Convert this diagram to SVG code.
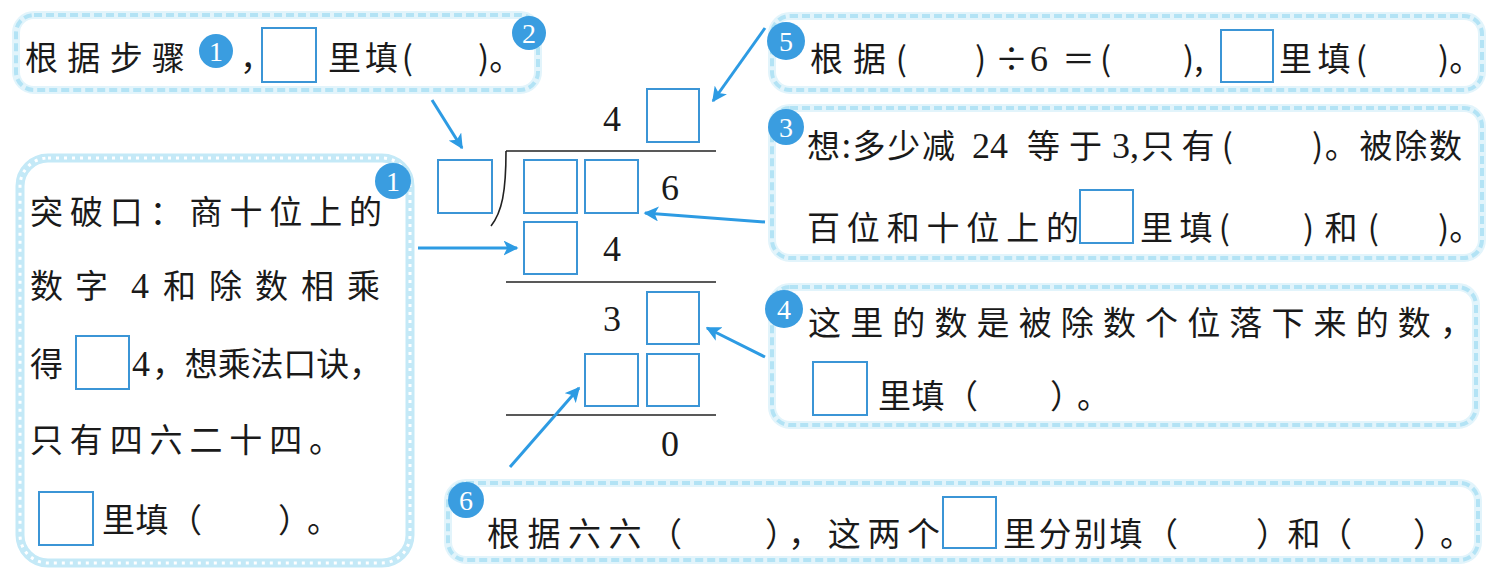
<svg xmlns="http://www.w3.org/2000/svg" width="1499" height="580" viewBox="0 0 1499 580">
<style>
.t{font-family:"Noto Sans CJK SC","Noto Sans",sans-serif;font-size:33px;fill:#1a1a1a}
.n{font-family:"Liberation Serif",serif;font-size:36px;fill:#1a1a1a}
.sq{fill:#fff;stroke:#3b95d6;stroke-width:2}
.band{fill:#fff;stroke:#e2f4fb;stroke-width:8}
.dash{fill:none;stroke:#b3e3f5;stroke-width:4;stroke-dasharray:8 4}
.lband{fill:#fff;stroke:#c4e9f7;stroke-width:9}
.ldot{fill:none;stroke:#fff;stroke-width:3;stroke-dasharray:3 5}
.badge{fill:#3a9de0}
.bn{font-family:"Liberation Serif",serif;font-size:28px;fill:#fff;text-anchor:middle}
.rule{stroke:#222;stroke-width:1.6;fill:none}
.arr{stroke:#2d9be3;stroke-width:3;fill:none;marker-end:url(#ah)}
</style>
<defs>
<marker id="ah" viewBox="0 0 10 10" refX="9" refY="5" markerWidth="5" markerHeight="5" orient="auto" markerUnits="strokeWidth">
<path d="M0,0 L10,5 L0,10 L2.5,5 Z" fill="#2d9be3"/>
</marker>
</defs>
<rect width="1499" height="580" fill="#fff"/>

<g id="node2">
<rect class="band" x="16" y="15" width="522" height="75" rx="18"/>
<rect class="dash" x="16" y="15" width="522" height="75" rx="18"/>
<text class="t" x="25" y="70" textLength="160" lengthAdjust="spacing">根据步骤</text>
<circle class="badge" cx="216" cy="51" r="17"/><text class="bn" x="216" y="61">1</text>
<text class="t" x="240" y="70">，</text>
<rect class="sq" x="262" y="28" width="54" height="54"/>
<text class="t" x="328" y="70" textLength="85" lengthAdjust="spacing">里填(</text>
<text class="t" x="478" y="70">)。</text>
<circle class="badge" cx="529" cy="33" r="17"/><text class="bn" x="529" y="43">2</text>
</g>

<g id="node1">
<rect class="lband" x="20" y="158" width="390" height="405" rx="28"/>
<rect class="ldot" x="20" y="158" width="390" height="405" rx="28"/>
<circle class="badge" cx="393" cy="181" r="18"/><text class="bn" x="393" y="191">1</text>
<text class="t" x="30" y="224" font-size="34" textLength="352" lengthAdjust="spacing">突破口：商十位上的</text>
<text class="t" x="30" y="298" font-size="34" textLength="78" lengthAdjust="spacing">数字</text>
<text class="n" x="131" y="298">4</text>
<text class="t" x="163" y="298" font-size="34" textLength="217" lengthAdjust="spacing">和除数相乘</text>
<text class="t" x="30" y="376" font-size="34">得</text>
<rect class="sq" x="76" y="336" width="53" height="53"/>
<text class="n" x="132" y="376">4</text>
<text class="t" x="152" y="376" font-size="34" textLength="230" lengthAdjust="spacing">，想乘法口诀，</text>
<text class="t" x="30" y="452" font-size="34" textLength="312" lengthAdjust="spacing">只有四六二十四。</text>
<rect class="sq" x="39" y="492" width="54" height="53"/>
<text class="t" x="102" y="532" font-size="34" textLength="100" lengthAdjust="spacing">里填（</text>
<text class="t" x="278" y="532" font-size="34" textLength="62" lengthAdjust="spacing">）。</text>
</g>

<g id="division">
<text class="n" x="612" y="131" text-anchor="middle">4</text>
<rect class="sq" x="647" y="89" width="52" height="53"/>
<line class="rule" x1="506" y1="151" x2="716" y2="151"/>
<path class="rule" d="M506,151 C506,192 502,212 491,226"/>
<rect class="sq" x="438" y="160" width="54" height="53"/>
<rect class="sq" x="524" y="160" width="53" height="53"/>
<rect class="sq" x="585" y="160" width="53" height="53"/>
<text class="n" x="670" y="200" text-anchor="middle">6</text>
<rect class="sq" x="524" y="222" width="53" height="52"/>
<text class="n" x="612" y="261" text-anchor="middle">4</text>
<line class="rule" x1="506" y1="282" x2="716" y2="282"/>
<text class="n" x="612" y="331" text-anchor="middle">3</text>
<rect class="sq" x="647" y="292" width="52" height="52"/>
<rect class="sq" x="585" y="354" width="53" height="52"/>
<rect class="sq" x="647" y="354" width="52" height="52"/>
<line class="rule" x1="506" y1="415" x2="716" y2="415"/>
<text class="n" x="670" y="456" text-anchor="middle">0</text>
</g>

<g id="node5">
<rect class="band" x="772" y="16" width="710" height="74" rx="18"/>
<rect class="dash" x="772" y="16" width="710" height="74" rx="18"/>
<circle class="badge" cx="786" cy="41" r="19"/><text class="bn" x="786" y="51">5</text>
<text class="t" x="810" y="71" textLength="97" lengthAdjust="spacing">根据(</text>
<text class="t" x="975" y="71">)</text>
<text class="t" x="995" y="71">÷</text>
<text class="n" x="1030" y="71">6</text>
<text class="t" x="1062" y="71">＝</text>
<text class="t" x="1100" y="71">(</text>
<text class="t" x="1183" y="71">),</text>
<rect class="sq" x="1221" y="30" width="52" height="52"/>
<text class="t" x="1279" y="71" textLength="88" lengthAdjust="spacing">里填(</text>
<text class="t" x="1438" y="71">)。</text>
</g>

<g id="node3">
<rect class="band" x="772" y="108" width="710" height="150" rx="18"/>
<rect class="dash" x="772" y="108" width="710" height="150" rx="18"/>
<circle class="badge" cx="786" cy="127" r="18"/><text class="bn" x="786" y="137">3</text>
<text class="t" x="807" y="158" textLength="148" lengthAdjust="spacing">想:多少减</text>
<text class="n" x="972" y="158">24</text>
<text class="t" x="1027" y="158" textLength="75" lengthAdjust="spacing">等于</text>
<text class="n" x="1112" y="158">3,</text>
<text class="t" x="1141" y="158" textLength="92" lengthAdjust="spacing">只有(</text>
<text class="t" x="1312" y="158" textLength="150" lengthAdjust="spacing">)。被除数</text>
<text class="t" x="807" y="240" textLength="272" lengthAdjust="spacing">百位和十位上的</text>
<rect class="sq" x="1080" y="190" width="53" height="53"/>
<text class="t" x="1140" y="240" textLength="90" lengthAdjust="spacing">里填(</text>
<text class="t" x="1303" y="240" textLength="76" lengthAdjust="spacing">)和(</text>
<text class="t" x="1438" y="240">)。</text>
</g>

<g id="node4">
<rect class="band" x="772" y="287" width="704" height="138" rx="18"/>
<rect class="dash" x="772" y="287" width="704" height="138" rx="18"/>
<circle class="badge" cx="784" cy="309" r="19"/><text class="bn" x="784" y="319">4</text>
<text class="t" x="808" y="335" textLength="665" lengthAdjust="spacing">这里的数是被除数个位落下来的数，</text>
<rect class="sq" x="813" y="362" width="54" height="53"/>
<text class="t" x="878" y="408" textLength="100" lengthAdjust="spacing">里填（</text>
<text class="t" x="1050" y="408" textLength="60" lengthAdjust="spacing">）。</text>
</g>

<g id="node6">
<rect class="band" x="448" y="483" width="1030" height="77" rx="18"/>
<rect class="dash" x="448" y="483" width="1030" height="77" rx="18"/>
<circle class="badge" cx="466" cy="500" r="18"/><text class="bn" x="466" y="510">6</text>
<text class="t" x="487" y="546" textLength="195" lengthAdjust="spacing">根据六六（</text>
<text class="t" x="765" y="546" textLength="175" lengthAdjust="spacing">），这两个</text>
<rect class="sq" x="943" y="497" width="53" height="51"/>
<text class="t" x="1003" y="546" textLength="175" lengthAdjust="spacing">里分别填（</text>
<text class="t" x="1256" y="546" textLength="96" lengthAdjust="spacing">）和（</text>
<text class="t" x="1413" y="546" textLength="60" lengthAdjust="spacing">）。</text>
</g>

<g id="connectors">
<line class="arr" x1="432" y1="100" x2="462" y2="148"/>
<line class="arr" x1="418" y1="248" x2="517" y2="248"/>
<line class="arr" x1="765" y1="222" x2="645" y2="213"/>
<line class="arr" x1="765" y1="357" x2="707" y2="328"/>
<line class="arr" x1="765" y1="28" x2="713" y2="101"/>
<line class="arr" x1="510" y1="467" x2="579" y2="388"/>
</g>
</svg>
